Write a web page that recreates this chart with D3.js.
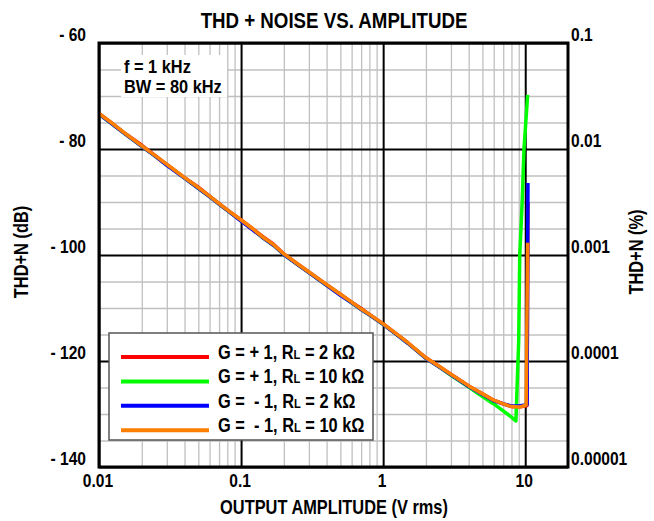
<!DOCTYPE html>
<html>
<head>
<meta charset="utf-8">
<script src="https://cdn.jsdelivr.net/npm/d3@7"></script>
<style>
  html, body { margin: 0; padding: 0; background: #fff; }
  svg text { font-family: "Liberation Sans", Arial, sans-serif; font-weight: bold; fill: #000; white-space: pre; }
</style>
</head>
<body>
<svg id="chart" width="654" height="521"></svg>
<script>
// ---------- data ----------
const title = "THD + NOISE VS. AMPLITUDE";
const xTitle = "OUTPUT AMPLITUDE (V rms)";
const yTitleLeft = "THD+N (dB)";
const yTitleRight = "THD+N (%)";
const annotation = ["f = 1 kHz", "BW = 80 kHz"];

const xMajorTicks = [0.01, 0.1, 1, 10];
const xTickLabels = ["0.01", "0.1", "1", "10"];
const yMajorTicks = [-60, -80, -100, -120, -140];
const yTickLabels = ["- 60", "- 80", "- 100", "- 120", "- 140"];
const yRightLabels = ["0.1", "0.01", "0.001", "0.0001", "0.00001"];
const yMinorTicks = [-65, -70, -75, -85, -90, -95, -105, -110, -115, -125, -130, -135];
const minorMultipliers = [2, 3, 4, 5, 6, 7, 8, 9];

// series: amplitude (V rms) and THD+N (dB)
const ampRed    = [0.01,0.012,0.015,0.02,0.025,0.03,0.04,0.05,0.06,0.07,0.083,0.1,0.12,0.14,0.17,0.2,0.25,0.3,0.4,0.5,0.6,0.7,0.8,1,1.2,1.5,2,2.5,3,4,5,6,7,8,9,10,10.3,10.45];
const dbRed     = [-73.3,-74.9,-76.9,-79.3,-81.3,-82.9,-85.4,-87.2,-88.9,-90.3,-91.8,-93.4,-95.0,-96.4,-98.0,-99.8,-101.7,-103.2,-105.6,-107.4,-108.9,-110.1,-111.2,-113.0,-114.6,-116.6,-119.4,-121.1,-122.5,-124.7,-126.2,-127.4,-128.1,-128.6,-128.7,-128.5,-128.4,-90.0];

const ampGreen  = [0.01,0.012,0.015,0.02,0.025,0.03,0.04,0.05,0.06,0.07,0.083,0.1,0.12,0.14,0.17,0.2,0.25,0.3,0.4,0.5,0.6,0.7,0.8,1,1.2,1.5,2,2.5,3,4,5,6,7,8,8.6,9.0,9.15,9.5,9.8,10.4];
const dbGreen   = [-73.4,-75.0,-77.0,-79.5,-81.4,-83.0,-85.5,-87.4,-89.0,-90.4,-91.9,-93.5,-95.1,-96.6,-98.2,-99.9,-101.8,-103.3,-105.7,-107.5,-109.0,-110.3,-111.3,-113.1,-114.7,-116.7,-119.5,-121.2,-122.7,-124.9,-126.7,-128.1,-129.4,-130.6,-131.3,-116.0,-100.0,-90.5,-80.0,-69.8];

const ampBlue   = [0.01,0.012,0.015,0.02,0.025,0.03,0.04,0.05,0.06,0.07,0.083,0.1,0.12,0.14,0.17,0.2,0.25,0.3,0.4,0.5,0.6,0.7,0.8,1,1.2,1.5,2,2.5,3,4,5,6,7,8,9,10,10.3,10.45];
const dbBlue    = [-73.4,-75.0,-77.0,-79.5,-81.4,-83.1,-85.5,-87.4,-89.0,-90.4,-91.9,-93.6,-95.2,-96.6,-98.2,-99.9,-101.8,-103.3,-105.7,-107.6,-109.0,-110.3,-111.3,-113.1,-114.7,-116.7,-119.5,-121.2,-122.6,-124.8,-126.3,-127.5,-128.1,-128.5,-128.5,-128.3,-128.2,-86.4];

const ampOrange = [0.01,0.012,0.015,0.02,0.025,0.03,0.04,0.05,0.06,0.07,0.083,0.1,0.12,0.14,0.17,0.2,0.25,0.3,0.4,0.5,0.6,0.7,0.8,1,1.2,1.5,2,2.5,3,4,5,6,7,8,9,10,10.15,10.4];
const dbOrange  = [-73.3,-74.9,-76.9,-79.4,-81.3,-82.9,-85.4,-87.3,-88.9,-90.3,-91.8,-93.4,-95.0,-96.5,-98.1,-99.8,-101.7,-103.2,-105.6,-107.4,-108.9,-110.2,-111.2,-113.0,-114.6,-116.6,-119.4,-121.1,-122.5,-124.7,-126.2,-127.4,-128.1,-128.6,-128.7,-128.4,-128.3,-97.7];

const seriesNames = ["G = + 1, R|L| = 2 kΩ", "G = + 1, R|L| = 10 kΩ", "G =  - 1, R|L| = 2 kΩ", "G =  - 1, R|L| = 10 kΩ"];
const seriesColors = ["#ff0000", "#00ff00", "#0000ff", "#ff8000"];
const seriesAmp = [ampRed, ampGreen, ampBlue, ampOrange];
const seriesDb = [dbRed, dbGreen, dbBlue, dbOrange];

// ---------- layout ----------
const L = 99, R = 568, T = 43, B = 467;
const SX = 0.82; // horizontal compression (narrow bold face)
const svg = d3.select("#chart");

const x = d3.scaleLog().domain([0.01, 20]).range([L, R]);
const y = d3.scaleLinear().domain([-140, -60]).range([B, T]);

function ntext(parent, px, py, size, anchor, rotate, sx) {
  const g = parent.append("g").attr("transform", `translate(${px},${py})` + (rotate ? ` rotate(${rotate})` : ""));
  return g.append("text").attr("transform", `scale(${sx || SX},1)`)
    .attr("text-anchor", anchor || "start").style("font-size", size + "px");
}
function richText(t, str) {
  str.split("|").forEach((p, i) => {
    const ts = t.append("tspan").text(p);
    if (i % 2 === 1) ts.style("font-size", "0.68em");
  });
}

// minor vertical grid
const xMinor = [];
xMajorTicks.forEach(d => minorMultipliers.forEach(m => { const v = d * m; if (v < 20) xMinor.push(v); }));

svg.append("g").attr("transform", `translate(0,${B})`)
  .call(d3.axisBottom(x).tickValues(xMinor).tickSize(-(B - T)).tickFormat(""))
  .call(g => { g.select(".domain").remove(); g.selectAll("line").attr("stroke", "#c0c0c0").attr("stroke-width", 1.3); });

svg.append("g").attr("transform", `translate(${L},0)`)
  .call(d3.axisLeft(y).tickValues(yMinorTicks).tickSize(-(R - L)).tickFormat(""))
  .call(g => { g.select(".domain").remove(); g.selectAll("line").attr("stroke", "#c0c0c0").attr("stroke-width", 1.3); });

// major grid
svg.append("g").attr("transform", `translate(0,${B})`)
  .call(d3.axisBottom(x).tickValues(xMajorTicks).tickSize(-(B - T)).tickFormat(""))
  .call(g => { g.select(".domain").remove(); g.selectAll("line").attr("stroke", "#000").attr("stroke-width", 2); });

svg.append("g").attr("transform", `translate(${L},0)`)
  .call(d3.axisLeft(y).tickValues(yMajorTicks).tickSize(-(R - L)).tickFormat(""))
  .call(g => { g.select(".domain").remove(); g.selectAll("line").attr("stroke", "#000").attr("stroke-width", 2); });

// annotation box
svg.append("rect").attr("x", 121).attr("y", 55).attr("width", 106).attr("height", 42).attr("fill", "#fff");
richText(ntext(svg, 124, 73, 18, "start", 0, 0.91), annotation[0]);
richText(ntext(svg, 124, 93, 18, "start", 0, 0.91), annotation[1]);

// series
const line = d3.line().x(d => x(d[0])).y(d => y(d[1]));
seriesAmp.forEach((amps, i) => {
  const pts = amps.map((a, j) => [a, seriesDb[i][j]]);
  svg.append("path").datum(pts).attr("d", line)
    .attr("fill", "none").attr("stroke", seriesColors[i]).attr("stroke-width", 3.5)
    .attr("stroke-linejoin", "round").attr("stroke-linecap", "butt");
});

// legend
const lg = svg.append("g");
lg.append("rect").attr("x", 109).attr("y", 333).attr("width", 264).attr("height", 107)
  .attr("fill", "#fff").attr("stroke", "#555").attr("stroke-width", 1.5);
seriesNames.forEach((nm, i) => {
  const ly = 357 + i * 24.4;
  lg.append("line").attr("x1", 121).attr("x2", 209).attr("y1", ly).attr("y2", ly)
    .attr("stroke", seriesColors[i]).attr("stroke-width", 4);
  richText(ntext(lg, 218, ly + 2, 20, "start"), nm);
});

// border
svg.append("rect").attr("x", L).attr("y", T).attr("width", R - L).attr("height", B - T)
  .attr("fill", "none").attr("stroke", "#000").attr("stroke-width", 3);

// tick labels
yMajorTicks.forEach((v, i) => {
  ntext(svg, 86, y(v) - 2, 19, "end").text(yTickLabels[i]);
  ntext(svg, 571, y(v) - 2, 19, "start").text(yRightLabels[i]);
});
xMajorTicks.forEach((v, i) => {
  ntext(svg, x(v) - 1, 487, 19, "middle").text(xTickLabels[i]);
});

// titles
ntext(svg, 334, 28, 22, "middle", 0, 0.85).text(title);
ntext(svg, 334, 514, 20, "middle").text(xTitle);
ntext(svg, 28, 252, 20, "middle", -90).text(yTitleLeft);
ntext(svg, 643, 252, 20, "middle", -90).text(yTitleRight);
</script>
</body>
</html>
